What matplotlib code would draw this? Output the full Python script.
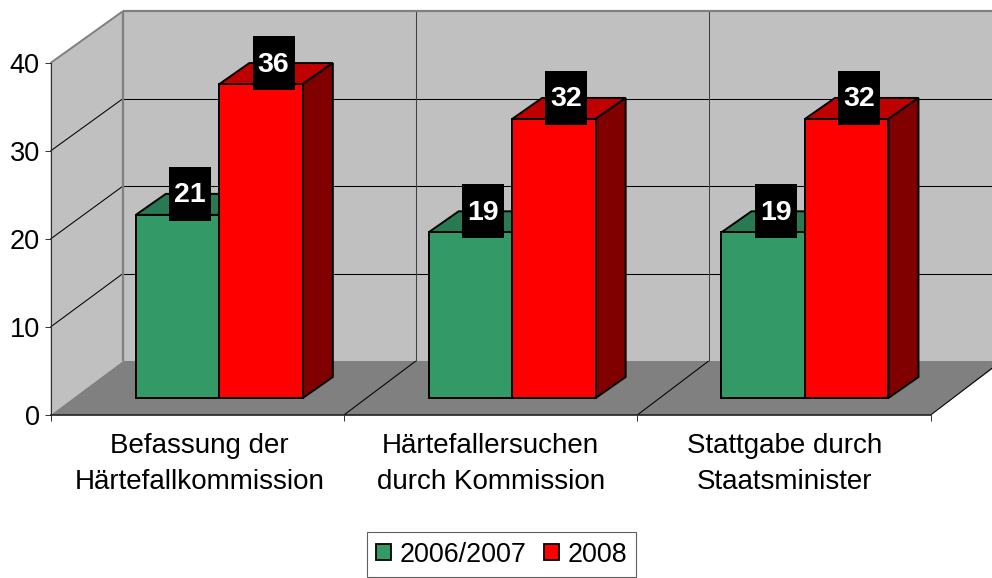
import matplotlib
matplotlib.use("Agg")
import matplotlib.pyplot as plt
from matplotlib.patches import Patch, Polygon, Rectangle

plt.rcParams['font.family'] = ['Liberation Sans', 'DejaVu Sans']

categories = ['Befassung der\nHärtefallkommission', 'Härtefallersuchen\ndurch Kommission', 'Stattgabe durch\nStaatsminister']
series_names = ['2006/2007', '2008']
values_2006 = [21, 19, 19]
values_2008 = [36, 32, 32]
y_ticks = [0, 10, 20, 30, 40]

W, H = 992, 578
PX_X = 293.4  # pixels per category
PX_Y = 8.8    # pixels per value unit
DX, DY = 72.5 / PX_X, 54 / PX_Y            # depth of the floor
BAR_X, BAR_Y = 22 / PX_X, 17 / PX_Y        # bars stand a bit behind the front edge
BAR_DX, BAR_DY = 30 / PX_X, 21 / PX_Y      # depth of a bar
BAR_W = 0.2846
BAR_SCALE = 0.991
BACK_X, BACK_Y = 0.998, 0.994              # things further back look a little smaller

fig = plt.figure(figsize=(W / 100, H / 100), dpi=100)
ax = fig.add_axes([50.5 / W, (H - 415) / H, 3 * PX_X / W, 40 * PX_Y / H])
ax.set_xlim(0, 3)
ax.set_ylim(0, 40)
ax.patch.set_visible(False)


def poly(points, color, z, edge='none', lw=0):
    ax.add_patch(Polygon(points, closed=True, facecolor=color, edgecolor=edge, linewidth=lw,
                         zorder=z, clip_on=False, joinstyle='miter'))


def seg(xs, ys, color='black', lw=0.75, z=1.2):
    ax.plot(xs, ys, color=color, lw=lw, zorder=z, clip_on=False, solid_capstyle='butt')


# walls and floor
top = y_ticks[-1]
top_back = top * BACK_Y + DY
poly([(0, 0), (DX, DY), (DX, top_back), (0, top)], '#C0C0C0', 1)
poly([(DX, DY), (3 + DX, DY), (3 + DX, top_back), (DX, top_back)], '#C0C0C0', 1)
poly([(0, 0), (3, 0), (3 + DX, DY), (DX, DY)], '#808080', 1.1)

# gridlines
for v in y_ticks[1:-1]:
    seg([0, DX], [v, v * BACK_Y + DY])
    seg([DX, 3 + DX], [v * BACK_Y + DY, v * BACK_Y + DY])
for i in range(1, 4):
    seg([i, i * BACK_X + DX], [0, DY], z=1.3)
    if i < 3:
        seg([i * BACK_X + DX, i * BACK_X + DX], [DY, top_back], color='#404040')

# wall borders
seg([0, DX], [top, top_back], color='#808080', lw=1.4)
seg([DX, 3 + DX], [top_back, top_back], color='#808080', lw=1.6)
seg([DX, DX], [DY, top_back], color='#808080', lw=1.6)


def bar_left(i, offset):
    return (i + 0.5) * BACK_X + 0.0015 + offset + BAR_X


def draw_series(values, offset, front, top_color, side_color, z):
    xs = [bar_left(i, offset) for i in range(len(values))]
    heights = [v * BAR_SCALE for v in values]
    ax.bar(xs, heights, width=BAR_W, bottom=BAR_Y, color=front,
           edgecolor='black', linewidth=1.4, zorder=z + 0.2, clip_on=False)
    for x, h in zip(xs, heights):
        left = x - BAR_W / 2
        right = left + BAR_W
        y0 = BAR_Y
        y1 = BAR_Y + h
        poly([(left, y1), (right, y1), (right + BAR_DX, y1 + BAR_DY), (left + BAR_DX, y1 + BAR_DY)],
             top_color, z, 'black', 1.4)
        poly([(right, y0), (right + BAR_DX, y0 + BAR_DY), (right + BAR_DX, y1 + BAR_DY), (right, y1)],
             side_color, z, 'black', 1.4)


draw_series(values_2006, -BAR_W / 2, '#339966', '#297A52', '#1A4D33', 2)
draw_series(values_2008, BAR_W / 2, '#FF0000', '#BF0000', '#800000', 3)

# data labels, black boxes sitting on the bar tops
BOX_W, BOX_H = 42 / PX_X, 54 / PX_Y
LABEL_X, LABEL_Y = 12.5 / PX_X, 21 / PX_Y
for values, offset in ((values_2006, -BAR_W / 2), (values_2008, BAR_W / 2)):
    for i, v in enumerate(values):
        cx = bar_left(i, offset) + LABEL_X
        cy = BAR_Y + v * BAR_SCALE + LABEL_Y
        ax.add_patch(Rectangle((cx - BOX_W / 2, cy - BOX_H / 2), BOX_W, BOX_H, facecolor='black',
                               edgecolor='none', zorder=5, clip_on=False))
        ax.text(cx, cy + 1.5 / PX_Y, str(v), color='white', fontsize=20.5, fontweight='bold',
                ha='center', va='center_baseline', zorder=6)

# axes
for s in ('top', 'right'):
    ax.spines[s].set_visible(False)
ax.spines['left'].set_linewidth(0.8)
ax.spines['left'].set_color('#303030')
ax.spines['bottom'].set_linewidth(1.2)
ax.spines['bottom'].set_color('#202020')
ax.set_yticks(y_ticks)
ax.tick_params(axis='y', length=4.3, width=0.7, pad=3.5, labelsize=19.5, color='#303030')
ax.set_xticks([0, 1, 2, 3])
ax.set_xticklabels([])
ax.tick_params(axis='x', which='major', length=4.3, width=0.7, color='#303030')
ax.set_xticks([0.508, 1.5, 2.502], minor=True)
ax.set_xticklabels(categories, minor=True, fontsize=20, linespacing=1.49)
ax.tick_params(axis='x', which='minor', length=0, pad=13)

handles = [Patch(facecolor='#339966', edgecolor='black', linewidth=1.3),
           Patch(facecolor='#FF0000', edgecolor='black', linewidth=1.3)]
leg = fig.legend(handles, series_names, ncol=2, loc='center', bbox_to_anchor=(501.5 / W, (H - 554.5) / H),
                 fontsize=19.4, frameon=True, fancybox=False, edgecolor='#606060', framealpha=1,
                 handlelength=0.57, handleheight=0.57, handletextpad=0.3, columnspacing=0.65,
                 borderpad=0.34, borderaxespad=0)
leg.get_frame().set_linewidth(0.8)

fig.savefig('out.png', dpi=100)
